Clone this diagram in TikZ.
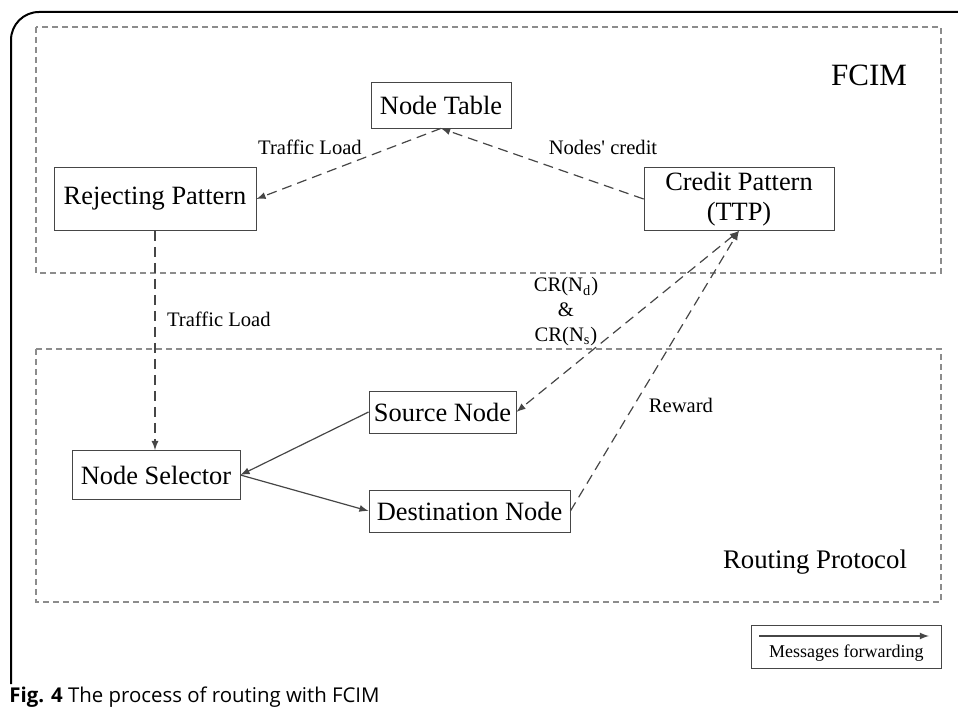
\documentclass[tikz,border=0pt]{standalone}
\usepackage{fontspec}
\setmainfont{Liberation Serif}
\newfontfamily\capfont{Open Sans}
\usetikzlibrary{arrows}
\definecolor{linegray}{RGB}{70,70,70}
\definecolor{framegray}{RGB}{140,140,140}
\begin{document}
\begin{tikzpicture}[x=0.5pt,y=-0.5pt,
    box/.style={draw=linegray, fill=white, inner sep=0pt, font=\fontsize{13.2}{15}\selectfont, align=center},
    lbl/.style={font=\fontsize{10.3}{12.5}\selectfont, align=center},
    area/.style={draw=framegray, dash pattern=on 3pt off 2pt, line width=0.6pt},
    msg/.style={draw=linegray, -latex, line width=0.6pt},
    dmsg/.style={msg, dash pattern=on 5pt off 3pt}]
            \useasboundingbox (0,0) rectangle (958,710);
            \draw[line width=1pt, rounded corners=14pt] (11,684) -- (11,12) -- (960,12);
            \draw[area] (36,27) rectangle (941,273);
            \draw[area] (36,349) rectangle (941,602);
            \node[font=\fontsize{15.5}{18}\selectfont] (fcim) at (869,75) {FCIM};
            \node[font=\fontsize{13.4}{16}\selectfont] (rproto) at (815,562) {Routing Protocol};
            \node[box, minimum width=70pt, minimum height=23pt] (ntable) at (441,105) {Node Table};
            \node[box, minimum width=101pt, minimum height=31.5pt] (reject) at (155,199) {Rejecting Pattern};
            \node[box, minimum width=95pt, minimum height=31.5pt] (credit) at (739,199) {Credit Pattern\\(TTP)};
            \node[box, minimum width=73.5pt, minimum height=21pt] (source) at (442.5,412) {Source Node};
            \node[box, minimum width=84pt, minimum height=24.5pt] (select) at (156,475) {Node Selector};
            \node[box, minimum width=100.5pt, minimum height=21pt] (dest) at (469.5,511) {Destination Node};
            \draw[dmsg] (ntable.south) -- (reject.east);
            \draw[dmsg] (credit.west) -- (ntable.south);
            \draw[dmsg] (reject.south) -- (reject.south |- select.north);
            \draw[msg] (source.west) -- (select.east);
            \draw[msg] (select.east) -- (dest.west);
            \draw[dmsg, latex-latex] (credit.south) -- (source.east);
            \draw[dmsg] (dest.east) -- (credit.south);
            \node[lbl] (tl1) at (310,147) {Traffic Load};
            \node[lbl] (nc) at (603,147) {Nodes\textquotesingle{} credit};
            \node[lbl, anchor=west] (tl2) at (160,319) {Traffic Load};
            \node[lbl] (cr) at (566,312) {CR(N\textsubscript{d})\\\&\\CR(N\textsubscript{s})};
            \node[lbl] (rw) at (681,405) {Reward};
            \node[draw=linegray, minimum width=95pt, minimum height=21.5pt, inner sep=0pt] (legend) at (846,646.5) {};
            \coordinate (la) at (759,636);
            \coordinate (lb) at (929,636);
            \draw[msg] (la) -- (lb);
            \node[font=\fontsize{9}{11}\selectfont, anchor=west] (ltext) at (762,653) {Messages forwarding};
            \node[font=\capfont\fontsize{10.2}{12}\selectfont, anchor=west, inner sep=0pt] (cap) at (9,697) {\textbf{Fig. 4} The process of routing with FCIM};
        \end{tikzpicture}
\end{document}
